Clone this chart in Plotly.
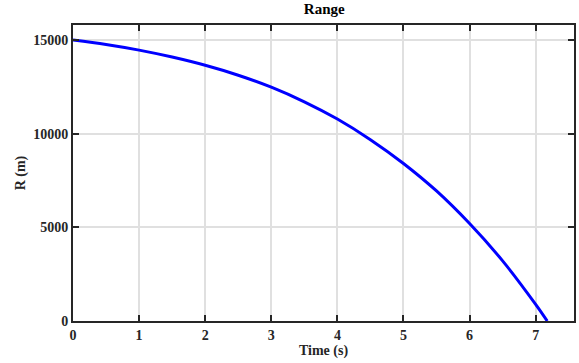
import plotly.graph_objects as go

time_s = [0, 0.5, 1, 1.5, 2, 2.5, 3, 3.5, 4, 4.5, 5, 5.5, 6, 6.5, 7, 7.175]
range_m = [15000, 14760, 14460, 14090, 13650, 13120, 12480, 11700, 10780,
           9680, 8410, 6940, 5200, 3210, 890, 0]

x_ticks = [0, 1, 2, 3, 4, 5, 6, 7]
y_ticks = [0, 5000, 10000, 15000]

FONT = "Liberation Serif, Times New Roman, serif"

fig = go.Figure()
fig.add_trace(go.Scatter(x=time_s, y=range_m, mode="lines",
                         line=dict(color="#0000FF", width=3, shape="spline", smoothing=1),
                         showlegend=False))

axis_common = dict(
    showline=True, linecolor="#262626", linewidth=2,
    mirror="ticks", ticks="inside", ticklen=6, tickwidth=2, tickcolor="#262626",
    showgrid=True, gridcolor="#E0E0E0", gridwidth=1.5,
    zeroline=False,
    tickfont=dict(family=FONT, size=14, color="#262626", weight="bold"),
)

fig.update_xaxes(range=[0, 7.58], tickvals=x_ticks,
                 title=dict(text="Time (s)", standoff=3,
                            font=dict(family=FONT, size=14, color="#262626", weight="bold")),
                 **axis_common)
fig.update_yaxes(range=[0, 15800], tickvals=y_ticks, tickformat="d",
                 title=dict(text="R (m)", standoff=4,
                            font=dict(family=FONT, size=14, color="#262626", weight="bold")),
                 **axis_common)

fig.update_layout(
    width=579, height=363,
    margin=dict(l=73, r=3, t=25, b=42),
    paper_bgcolor="white", plot_bgcolor="white",
    title=dict(text="Range", x=0.56, xanchor="center", y=0.99, yanchor="top",
               font=dict(family=FONT, size=15, color="black", weight="bold")),
)

fig.write_html("out.html")
